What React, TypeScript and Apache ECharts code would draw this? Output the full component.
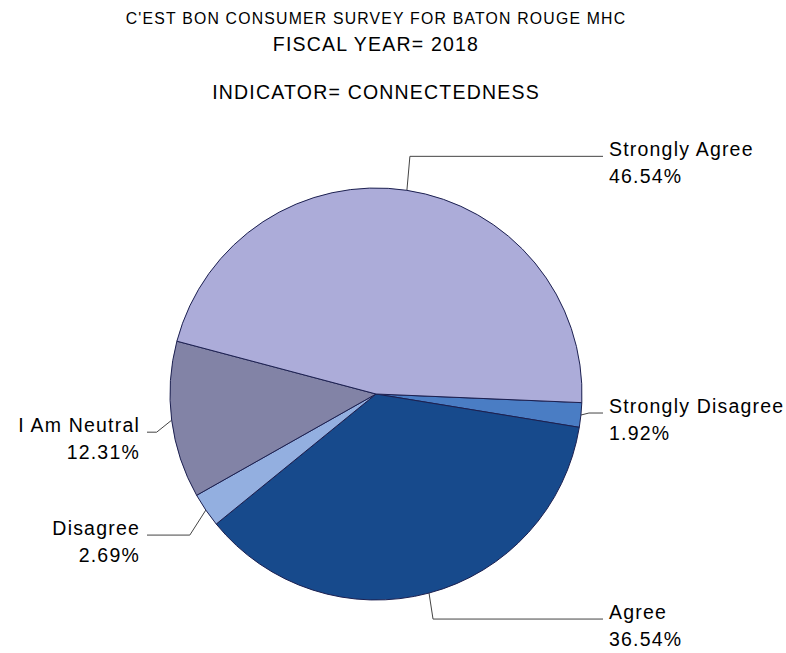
import React, { useEffect, useRef } from 'react';
import * as echarts from 'echarts';

// ---- data ----
const TITLE_LINES = [
  "C'EST BON CONSUMER SURVEY FOR BATON ROUGE MHC",
  'FISCAL YEAR= 2018',
  'INDICATOR= CONNECTEDNESS',
];
const categories = ['Strongly Disagree', 'Agree', 'Disagree', 'I Am Neutral', 'Strongly Agree'];
const percents = [1.92, 36.54, 2.69, 12.31, 46.54];

// ---- styles ----
const sliceColors = ['#4A7DC4', '#174A8C', '#93AFE0', '#8283A6', '#ACACD9'];
// elbow of each leader line, relative to the slice edge point the library computes
const elbowOffsets = [
  [8, -2],
  [4, 26],
  [-16, 25],
  [-15, 12],
  [3, -34],
];
const FONT = "'Liberation Sans', Arial, Helvetica, sans-serif";
const RIGHT_LINE_END = 603;
const RIGHT_TEXT_X = 609;
const LEFT_LINE_END = 147;
const LEFT_TEXT_X = 140;

export default function App() {
  const ref = useRef<HTMLDivElement>(null);

  useEffect(() => {
    if (!ref.current) return;
    const chart = echarts.init(ref.current, undefined, { renderer: 'svg' });
    const titleBase = {
      left: 376,
      padding: 0,
      textAlign: 'center',
      textVerticalAlign: 'top',
    };
    chart.setOption({
      animation: false,
      backgroundColor: '#ffffff',
      title: [
        {
          ...titleBase,
          text: TITLE_LINES[0],
          top: 10.8,
          textStyle: { fontSize: 15.8, lineHeight: 15.8, fontWeight: 'normal', color: '#000', fontFamily: FONT },
        },
        {
          ...titleBase,
          text: TITLE_LINES[1],
          top: 34,
          textStyle: { fontSize: 19.5, lineHeight: 19.5, fontWeight: 'normal', color: '#000', fontFamily: FONT },
        },
        {
          ...titleBase,
          text: TITLE_LINES[2],
          top: 82.7,
          textStyle: { fontSize: 19.5, lineHeight: 19.5, fontWeight: 'normal', color: '#000', fontFamily: FONT },
        },
      ],
      series: [
        {
          type: 'pie',
          center: [376, 394],
          radius: 206,
          startAngle: -2.4,
          clockwise: true,
          avoidLabelOverlap: false,
          emphasis: { disabled: true },
          itemStyle: { borderColor: '#1c2050', borderWidth: 1 },
          label: {
            show: true,
            position: 'outside',
            fontSize: 19.5,
            lineHeight: 27,
            fontFamily: FONT,
            color: '#000',
            overflow: 'none',
            formatter: (p: any) => `${p.name}\n${Number(p.value).toFixed(2)}%`,
          },
          labelLine: {
            show: true,
            length: 10,
            length2: 10,
            lineStyle: { color: '#444', width: 1 },
          },
          labelLayout: (p: any) => {
            const pts = p.labelLinePoints;
            if (!pts || pts.length < 3) return {};
            const x1 = pts[0][0];
            const y1 = pts[0][1];
            const isRight = pts[2][0] > x1;
            const off = elbowOffsets[p.dataIndex] || [0, 0];
            const ex = x1 + off[0];
            const ey = y1 + off[1];
            const endX = isRight ? RIGHT_LINE_END : LEFT_LINE_END;
            return {
              x: isRight ? RIGHT_TEXT_X : LEFT_TEXT_X,
              y: ey - 20.5,
              align: isRight ? 'left' : 'right',
              verticalAlign: 'top',
              labelLinePoints: [
                [x1, y1],
                [ex, ey],
                [endX, ey],
              ],
            };
          },
          data: categories.map((name, i) => ({
            name,
            value: percents[i],
            itemStyle: { color: sliceColors[i] },
          })),
        },
      ],
    });
    return () => chart.dispose();
  }, []);

  return (
    <>
      <style>{`.pie-chart text { letter-spacing: 1.2px; }`}</style>
      <div
        ref={ref}
        className="pie-chart"
        style={{ position: 'fixed', left: 0, top: 0, width: 786, height: 653, background: '#fff' }}
      />
    </>
  );
}
